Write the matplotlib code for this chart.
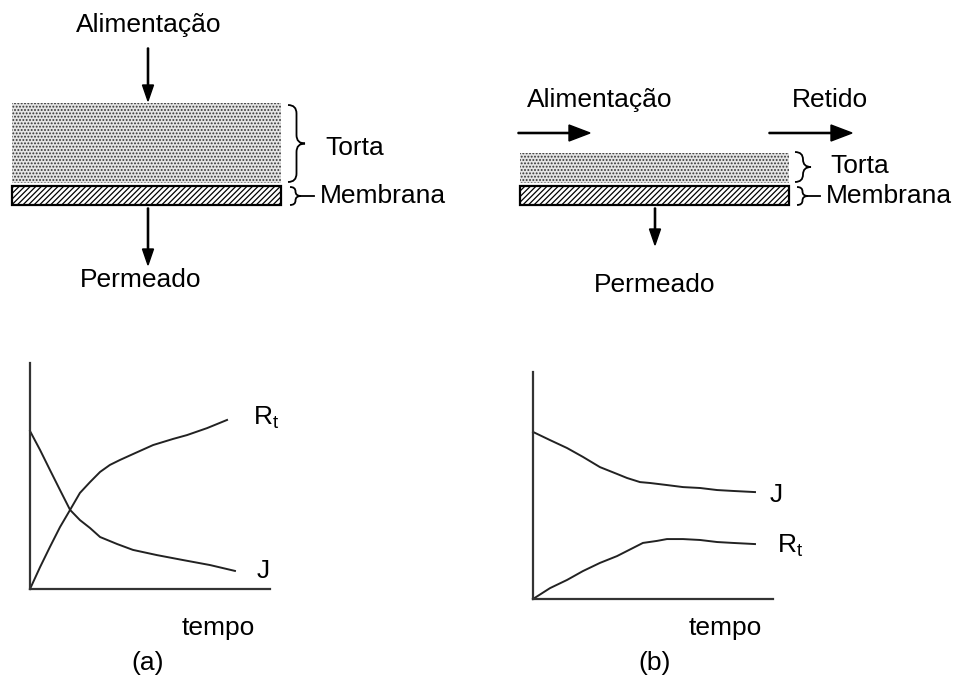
import numpy as np
import matplotlib.pyplot as plt
from matplotlib.path import Path
from matplotlib.patches import PathPatch, Rectangle

plt.rcParams['font.family'] = ['Liberation Sans', 'DejaVu Sans']
plt.rcParams['mathtext.fontset'] = 'custom'
plt.rcParams['mathtext.rm'] = 'Liberation Sans'
plt.rcParams['mathtext.it'] = 'Liberation Sans'
plt.rcParams['hatch.linewidth'] = 0.9

# --- curve data (time, value in 0..10 units) --- #
t_rt_a = [0, 0.42, 0.83, 1.25, 1.67, 2.08, 2.5, 2.92, 3.33, 3.75, 4.29, 5.13, 5.96, 6.54, 7.38, 8.21]
rt_a = [0, 0.97, 1.86, 2.74, 3.50, 4.25, 4.73, 5.18, 5.49, 5.71, 5.97, 6.37, 6.64, 6.81, 7.12, 7.48]
t_j_a = [0, 0.42, 0.83, 1.25, 1.67, 2.08, 2.5, 2.92, 3.63, 4.29, 5.29, 6.38, 7.5, 8.54]
j_a = [6.99, 6.15, 5.27, 4.38, 3.50, 3.05, 2.70, 2.30, 1.99, 1.73, 1.50, 1.28, 1.06, 0.80]

t_j_b = [0, 0.71, 1.42, 2.08, 2.79, 3.5, 3.92, 4.46, 4.88, 5.58, 6.25, 6.96, 7.67, 8.33, 9.25]
j_b = [7.36, 7.00, 6.65, 6.26, 5.81, 5.51, 5.33, 5.15, 5.11, 5.02, 4.93, 4.89, 4.80, 4.76, 4.71]
t_rt_b = [0, 0.71, 1.42, 2.08, 2.79, 3.5, 4.17, 4.58, 5.17, 5.58, 6.25, 6.96, 7.67, 8.33, 9.25]
rt_b = [0, 0.48, 0.84, 1.23, 1.59, 1.89, 2.25, 2.47, 2.56, 2.64, 2.64, 2.60, 2.51, 2.47, 2.42]

W, H = 956, 685
FS = 19

fig = plt.figure(figsize=(W / 100, H / 100), dpi=100)
ax = fig.add_axes([0, 0, 1, 1])
ax.set_xlim(0, W)
ax.set_ylim(H, 0)
ax.axis('off')


def brace(x, y0, y1, w, tail=0):
    ym = (y0 + y1) / 2
    r = min(w / 2, (y1 - y0) / 4)
    xm = x + w / 2
    verts = [(x, y0), (xm, y0), (xm, y0 + r), (xm, ym - r), (xm, ym), (x + w, ym),
             (xm, ym), (xm, ym + r), (xm, y1 - r), (xm, y1), (x, y1)]
    codes = [Path.MOVETO, Path.CURVE3, Path.CURVE3, Path.LINETO, Path.CURVE3, Path.CURVE3,
             Path.CURVE3, Path.CURVE3, Path.LINETO, Path.CURVE3, Path.CURVE3]
    ax.add_patch(PathPatch(Path(verts, codes), fill=False, lw=1.3, color='black'))
    if tail:
        ax.plot([x + w, x + w + tail], [ym, ym], color='black', lw=1.3)


def layers(x0, x1, top):
    ax.add_patch(Rectangle((x0, top), x1 - x0, 183 - top, facecolor='#e4e4e4',
                           edgecolor='#333333', lw=0, hatch='.....'))
    ax.add_patch(Rectangle((x0, 186), x1 - x0, 19, facecolor='white',
                           edgecolor='black', lw=1.6, hatch='//////'))


def arrow(x, y, dx, dy, hw, hl):
    ax.arrow(x, y, dx, dy, width=1.2, head_width=hw, head_length=hl,
             length_includes_head=True, color='black')


# --- (a) dead-end filtration --- #
ax.text(149, 32, 'Alimentação', fontsize=FS, ha='center', va='baseline')
arrow(148, 48, 0, 53, 11, 16)
layers(12, 281, 103)
brace(288, 105, 182, 17)
ax.text(325, 155, 'Torta', fontsize=FS, va='baseline')
brace(290, 187, 205, 11, tail=13)
ax.text(320, 203, 'Membrana', fontsize=FS, va='baseline')
arrow(148, 208, 0, 57, 11, 16)
ax.text(141, 287, 'Permeado', fontsize=FS, ha='center', va='baseline')

# --- (b) cross-flow filtration --- #
ax.text(600, 107, 'Alimentação', fontsize=FS, ha='center', va='baseline')
ax.text(830, 107, 'Retido', fontsize=FS, ha='center', va='baseline')
arrow(518, 133, 72, 0, 16, 21)
arrow(769, 133, 83, 0, 16, 21)
layers(520, 789, 153)
brace(795, 152, 182, 16)
ax.text(830, 173, 'Torta', fontsize=FS, va='baseline')
brace(797, 187, 205, 11, tail=12)
ax.text(826, 203, 'Membrana', fontsize=FS, va='baseline')
arrow(655, 208, 0, 37, 11, 16)
ax.text(655, 292, 'Permeado', fontsize=FS, ha='center', va='baseline')


def graph(left, right, top, bottom):
    g = fig.add_axes([left / W, 1 - bottom / H, (right - left) / W, (bottom - top) / H])
    g.set_xlim(0, 10)
    g.set_ylim(0, 10)
    g.patch.set_alpha(0)
    for s in ['top', 'right']:
        g.spines[s].set_visible(False)
    for s in ['left', 'bottom']:
        g.spines[s].set_color('#333333')
        g.spines[s].set_linewidth(1.6)
    g.set_xticks([])
    g.set_yticks([])
    return g


ga = graph(30, 270, 363, 589)
ga.plot(t_rt_a, rt_a, color='#222222', lw=1.4, clip_on=False)
ga.plot(t_j_a, j_a, color='#222222', lw=1.4, clip_on=False)
ax.text(253, 425, r'R$_\mathrm{t}$', fontsize=FS, va='baseline')
ax.text(257, 578, 'J', fontsize=FS, va='baseline')
ax.text(218, 635, 'tempo', fontsize=FS, ha='center', va='baseline')
ax.text(148, 670, '(a)', fontsize=FS, ha='center', va='baseline')

gb = graph(533, 773, 372, 599)
gb.plot(t_j_b, j_b, color='#222222', lw=1.4, clip_on=False)
gb.plot(t_rt_b, rt_b, color='#222222', lw=1.4, clip_on=False)
ax.text(770, 502, 'J', fontsize=FS, va='baseline')
ax.text(777, 553, r'R$_\mathrm{t}$', fontsize=FS, va='baseline')
ax.text(725, 635, 'tempo', fontsize=FS, ha='center', va='baseline')
ax.text(655, 670, '(b)', fontsize=FS, ha='center', va='baseline')

fig.savefig('out.png', dpi=100)
